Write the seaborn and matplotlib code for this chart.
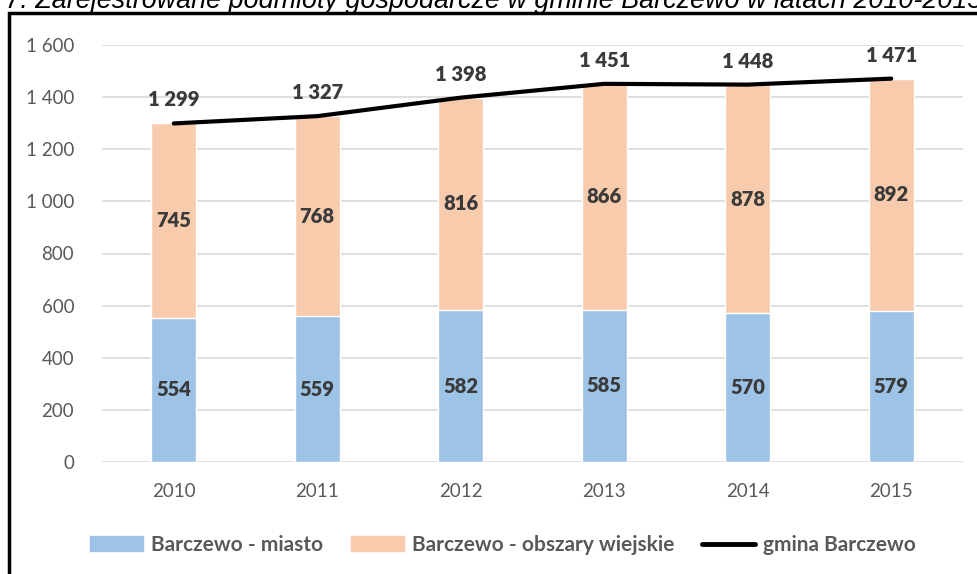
import matplotlib
matplotlib.use('Agg')
import matplotlib.pyplot as plt
from matplotlib.patches import Rectangle, Patch
from matplotlib.lines import Line2D
import pandas as pd
import seaborn as sns

sns.set_style('white')
plt.rcParams['font.family'] = ['Lato', 'DejaVu Sans']

# registered businesses in Barczewo commune
lata = ['2010', '2011', '2012', '2013', '2014', '2015']
miasto = [554, 559, 582, 585, 570, 579]
wies = [745, 768, 816, 866, 878, 892]
razem = [1299, 1327, 1398, 1451, 1448, 1471]
df = pd.DataFrame({'rok': lata, 'miasto': miasto, 'wies': wies, 'razem': razem})

c_blue = '#9DC3E6'
c_peach = '#F8CBAD'
c_txt = '#3A3A3A'
c_tick = '#595959'

fig = plt.figure(figsize=(9.78, 5.74), dpi=100)
ax = fig.add_axes([102/978, (574-462)/574, (963-102)/978, (462-45)/574])

# stacked bars: full height in peach, city part in blue on top of it
sns.barplot(data=df, x='rok', y='razem', color=c_peach, width=0.315, saturation=1, ax=ax, zorder=2)
sns.barplot(data=df, x='rok', y='miasto', color=c_blue, width=0.315, saturation=1, ax=ax, zorder=3)
sns.lineplot(x=range(len(lata)), y=df['razem'], color='black', lw=3, ax=ax, zorder=4)

lab = dict(ha='center', va='center', fontsize=14.5, fontweight='heavy', color=c_txt, zorder=5)
for i in range(len(lata)):
    ax.text(i, miasto[i]/2, str(miasto[i]), **lab)
    ax.text(i, miasto[i] + wies[i]/2, str(wies[i]), **lab)
    ax.annotate('{:,}'.format(razem[i]).replace(',', ' '), (i, razem[i]), xytext=(0, 17),
                textcoords='offset points', **lab)

ax.set_xlim(-0.5, 5.5)
ax.set_ylim(0, 1600)
ax.set_yticks(range(0, 1601, 200))
ax.set_yticklabels(['{:,}'.format(v).replace(',', ' ') for v in range(0, 1601, 200)])
ax.grid(axis='y', color='#D9D9D9', lw=1.2, zorder=0)
ax.set_axisbelow(True)
ax.set_xlabel('')
ax.set_ylabel('')
for s in ax.spines.values():
    s.set_visible(False)
ax.tick_params(axis='both', length=0, labelsize=13.5, labelcolor=c_tick)
ax.tick_params(axis='y', pad=20)
ax.tick_params(axis='x', pad=15)

handles = [Patch(color=c_blue), Patch(color=c_peach), Line2D([], [], color='black', lw=3.5)]
labels = ['Barczewo - miasto', 'Barczewo - obszary wiejskie', 'gmina Barczewo']
leg = fig.legend(handles, labels, loc='center', bbox_to_anchor=(503/978, 1 - 545/574), ncol=3, frameon=False,
                 handlelength=2.55, handleheight=0.75, handletextpad=0.4, columnspacing=1.3,
                 prop={'size': 15, 'weight': 'bold'})
for t in leg.get_texts():
    t.set_color(c_tick)

# frame around the chart (cut off on the right and bottom)
fig.patches.append(Rectangle((9/978, -0.1), 1.2, 1.1 - 13/574, transform=fig.transFigure,
                             fill=False, ec='black', lw=2.5))

# caption above the frame, partly cut off as in the source
fig.text(1 + 4/978, 1 - 8/574, 'Wykres 7. Zarejestrowane podmioty gospodarcze w gminie Barczewo w latach 2010-2015',
         ha='right', va='baseline', fontsize=19.4, style='italic', family='Liberation Sans', color='black')

fig.savefig('out.png', dpi=100)
